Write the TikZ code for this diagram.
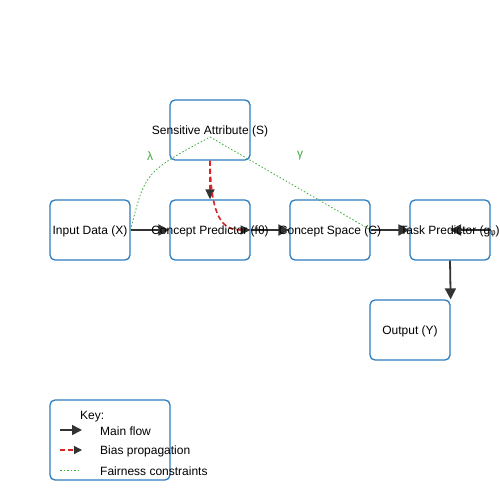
\documentclass[tikz,border=0pt]{standalone}
\usepackage{fontspec}
\setmainfont{Liberation Sans}
\setsansfont{Liberation Sans}
\usepackage{tikz}
\usetikzlibrary{arrows.meta, calc}

\definecolor{boxblue}{RGB}{45,125,190}
\definecolor{biasred}{RGB}{214,39,40}
\definecolor{fairgreen}{RGB}{60,170,60}
\definecolor{tipgray}{RGB}{51,51,51}

\tikzset{
	box/.style={draw=boxblue, line width=1.3pt, rounded corners=5pt, minimum width=80pt, minimum height=60pt, inner sep=0pt, fill=white},
	flow/.style={draw=tipgray, line width=1.8pt, -{Triangle[length=11pt,width=11pt]}},
	bias/.style={draw=biasred, line width=1.6pt, dash pattern=on 5pt off 3pt, -{Triangle[length=10pt,width=9pt,color=tipgray]}},
	fair/.style={draw=fairgreen, line width=0.8pt, dash pattern=on 1.5pt off 2pt},
	lbl/.style={text=fairgreen, font=\fontsize{12}{14}\selectfont},
	txt/.style={font=\fontsize{12}{14}\selectfont, inner sep=0pt, yshift=-1.5pt}
}

\begin{document}
\begin{tikzpicture}[x=1pt, y=-1pt, font=\fontsize{12}{14}\selectfont]
	\useasboundingbox (0,0) rectangle (500,500);

	% main boxes
	\node[box] (sens) at (210,130) {};
	\node[box] (inp) at (90,230) {};
	\node[box] (pred) at (210,230) {};
	\node[box] (space) at (330,230) {};
	\node[box] (task) at (450,230) {};
	\node[box] (out) at (410,330) {};
	\node[box, minimum width=120pt, minimum height=80pt] (key) at (110,440) {};

	% fairness constraints
	\coordinate (sattach) at (210,137);
	\draw[fair] (inp.east) .. controls (145,172) .. (sattach);
	\draw[fair] (sattach) -- (space.east);
	\node[lbl] (lam) at (150,156) {λ};
	\node[lbl] (gam) at (300,156) {γ};

	% bias propagation
	\draw[bias] (sens.south) -- (pred.north);
	\draw[bias] (sens.south) .. controls +(1,58) and +(-28,0) .. (pred.east);

	% main flow
	\draw[flow] (inp.east) -- (pred.west);
	\draw[flow] (pred.east) -- (space.west);
	\draw[flow] (space.east) -- (task.west);
	\draw[flow] (task.east) -- (task.center);
	\draw[flow] (task.south) -- (out.north east);

	% labels
	\node[txt] (senst) at (sens.center) {Sensitive Attribute (S)};
	\node[txt] (inpt) at (inp.center) {Input Data (X)};
	\node[txt] (predt) at (pred.center) {Concept Predictor (fθ)};
	\node[txt] (spacet) at (space.center) {Concept Space (C)};
	\node[txt] (taskt) at (task.center) {Task Predictor (gᵩ)};
	\node[txt] (outt) at (out.center) {Output (Y)};

	% key
	\node[txt, anchor=west] (keyt) at (80,415) {Key:};
	\coordinate (ka) at (60,430); \coordinate (kb) at (82,430);
	\coordinate (kc) at (60,450); \coordinate (kd) at (82,450);
	\coordinate (ke) at (60,470); \coordinate (kf) at (80,470);
	\draw[flow, line width=1.6pt, -{Triangle[length=10pt,width=10pt]}] (ka) -- (kb);
	\draw[bias, line width=1.2pt, -{Triangle[length=8pt,width=8pt,color=tipgray]}] (kc) -- (kd);
	\draw[fair, line width=1pt] (ke) -- (kf);
	\node[txt, anchor=west] (k1) at (100,430) {Main flow};
	\node[txt, anchor=west] (k2) at (100,450) {Bias propagation};
	\node[txt, anchor=west] (k3) at (100,470) {Fairness constraints};
\end{tikzpicture}
\end{document}
